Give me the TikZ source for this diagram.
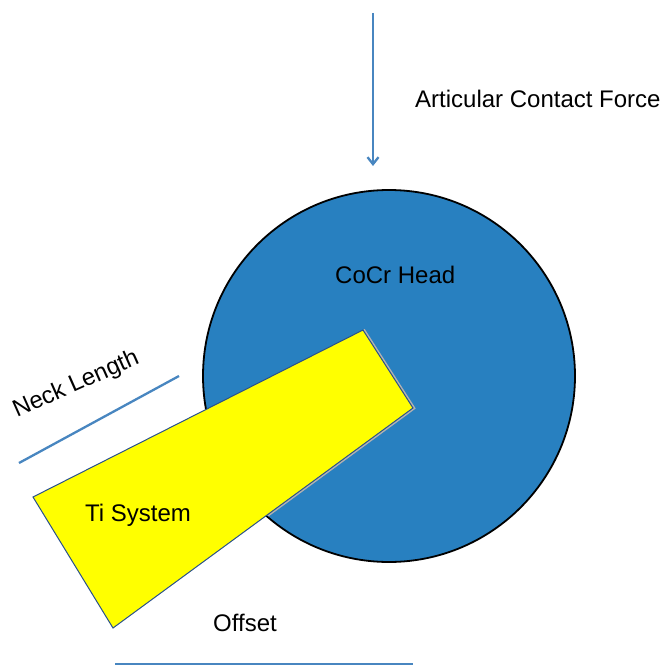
\documentclass[tikz,border=0pt]{standalone}
\usepackage{fontspec}
\setmainfont{Liberation Sans}
\usepackage{xcolor}
\usetikzlibrary{arrows.meta,positioning,calc}
\definecolor{headblue}{RGB}{40,128,192}
\definecolor{lineblue}{RGB}{72,134,192}
\definecolor{neckyellow}{RGB}{255,255,0}
\definecolor{neckedge}{RGB}{40,80,140}
\tikzset{
  label/.style={inner sep=0pt, anchor=base west, font=\fontsize{24}{28}\selectfont},
  head/.style={draw=black, line width=1.8pt, fill=headblue},
  neck/.style={draw=neckedge, line width=1pt, fill=neckyellow, line join=miter},
  halo/.style={draw=black!30, line width=4pt}, % light rim where the neck meets the head
  dimline/.style={draw=lineblue, line width=2.3pt},
  force/.style={-{Straight Barb[length=7pt,width=11pt,line width=2.3pt]}, draw=lineblue, line width=2.3pt}
}

\begin{document}
\begin{tikzpicture}[x=1pt, y=-1pt]
  \useasboundingbox (0,0) rectangle (664,669);

  % head
  \coordinate (C) at (389,376);
  \draw[head] (C) circle[radius=186];

  % neck corners
  \coordinate (A) at (363,330);
  \coordinate (B) at (413,408);
  \coordinate (Cb) at (113,628);
  \coordinate (D) at (33,497);
  \begin{scope}
    \clip (C) circle[radius=185];
    \draw[halo] (A) -- (B) -- (Cb);
  \end{scope}
  \filldraw[neck] (A) -- (B) -- (Cb) -- (D) -- cycle;

  % force arrow
  \coordinate (F0) at (373,13);
  \coordinate (F1) at (373,166);
  \draw[force] (F0) -- (F1);

  % dimension lines
  \coordinate (N0) at (19,463);
  \coordinate (N1) at (179,376);
  \draw[dimline] (N0) -- (N1);
  \coordinate (O0) at (115,664);
  \coordinate (O1) at (413,664);
  \draw[dimline] (O0) -- (O1);

  % labels
  \node[label] (force) at (415,107) {Articular Contact Force};
  \node[label] (cocr) at (335,283) {CoCr Head};
  \node[label] (ti) at (85,521) {Ti System};
  \node[label] (offset) at (213,631) {Offset};
  \node[label, rotate=24] (necklen) at (17,418) {Neck Length};
\end{tikzpicture}
\end{document}
